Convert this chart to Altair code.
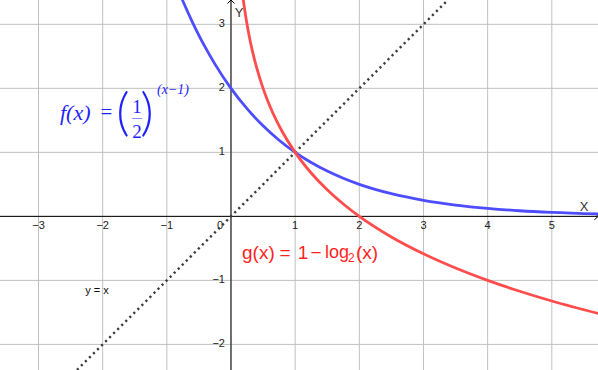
import altair as alt
import pandas as pd

# ---- view window (data units) ----
X_MIN, X_MAX = -3.6, 5.72
Y_MIN, Y_MAX = -2.40, 3.38

# ---- grid / ticks ----
grid_x = [-3, -2, -1, 0, 1, 2, 3, 4, 5]
grid_y = [-2, -1, 0, 1, 2, 3]
x_tick_values = [-3, -2, -1, 1, 2, 3, 4, 5]
x_tick_labels = ["−3", "−2", "−1", "1", "2", "3", "4", "5"]
y_tick_values = [-2, -1, 1, 2, 3]
y_tick_labels = ["−2", "−1", "1", "2", "3"]

# ---- curves ----
f_x = [-0.76, -0.6, -0.5, -0.4, -0.25, 0.0, 0.25, 0.5, 0.75, 1.0, 1.25, 1.5,
       1.75, 2.0, 2.5, 3.0, 3.5, 4.0, 4.5, 5.0, 5.75]
f_y = [3.387, 3.031, 2.828, 2.639, 2.378, 2.0, 1.682, 1.414, 1.189, 1.0, 0.841,
       0.707, 0.595, 0.5, 0.354, 0.25, 0.177, 0.125, 0.088, 0.0625, 0.037]

g_x = [0.19, 0.2, 0.25, 0.3, 0.35, 0.4, 0.5, 0.6, 0.7, 0.8, 1.0, 1.25, 1.5,
       1.75, 2.0, 2.5, 3.0, 3.5, 4.0, 4.5, 5.0, 5.75]
g_y = [3.396, 3.322, 3.0, 2.737, 2.515, 2.322, 2.0, 1.737, 1.515, 1.322, 1.0,
       0.678, 0.415, 0.193, 0.0, -0.322, -0.585, -0.807, -1.0, -1.170, -1.322, -1.524]

id_x = [-2.40, 3.38]
id_y = [-2.40, 3.38]

# ---- colours ----
BLUE_LINE = "#4d4dff"
RED_LINE = "#ff4d4d"
BLUE_TEXT = "#1f1fff"
RED_TEXT = "#ff1f1f"
GRID = "#c0c0c0"

xs = alt.Scale(domain=[X_MIN, X_MAX], nice=False, zero=False)
ys = alt.Scale(domain=[Y_MIN, Y_MAX], nice=False, zero=False)


def X(f="x"):
    return alt.X(f + ":Q", scale=xs, axis=None)


def Y(f="y"):
    return alt.Y(f + ":Q", scale=ys, axis=None)


grid_v = alt.Chart(pd.DataFrame({"x": grid_x})).mark_rule(
    color=GRID, strokeWidth=1).encode(x=X())
grid_h = alt.Chart(pd.DataFrame({"y": grid_y})).mark_rule(
    color=GRID, strokeWidth=1).encode(y=Y())

axis_v = alt.Chart(pd.DataFrame({"x": [0]})).mark_rule(
    color="black", strokeWidth=1).encode(x=X())
axis_h = alt.Chart(pd.DataFrame({"y": [0]})).mark_rule(
    color="black", strokeWidth=1).encode(y=Y())

arrow_up = alt.Chart(pd.DataFrame({"x": [0], "y": [Y_MAX]})).mark_point(
    shape="M-1,1L0,0L1,1", filled=False, size=49, strokeWidth=1, color="black",
    opacity=1).encode(x=X(), y=Y())
arrow_right = alt.Chart(pd.DataFrame({"x": [X_MAX], "y": [0]})).mark_point(
    shape="M-1,-1L0,0L-1,1", filled=False, size=49, strokeWidth=1, color="black",
    opacity=1).encode(x=X(), y=Y())

xt = alt.Chart(pd.DataFrame({"x": x_tick_values, "y": [0] * len(x_tick_values),
                             "t": x_tick_labels})).mark_text(
    align="center", baseline="middle", dy=10, fontSize=11,
    font="Liberation Sans", color="#222").encode(x=X(), y=Y(), text="t:N")
yt = alt.Chart(pd.DataFrame({"x": [0] * len(y_tick_values), "y": y_tick_values,
                             "t": y_tick_labels})).mark_text(
    align="right", baseline="middle", dx=-6, fontSize=11,
    font="Liberation Sans", color="#222").encode(x=X(), y=Y(), text="t:N")
zero = alt.Chart(pd.DataFrame({"x": [0], "y": [0], "t": ["0"]})).mark_text(
    align="center", baseline="middle", dx=-11, dy=10, fontSize=11,
    font="Liberation Sans", color="#222").encode(x=X(), y=Y(), text="t:N")

xlab = alt.Chart(pd.DataFrame({"x": [X_MAX], "y": [0], "t": ["X"]})).mark_text(
    align="center", baseline="middle", dx=-14, dy=-9, fontSize=13,
    font="Liberation Sans", color="#333").encode(x=X(), y=Y(), text="t:N")
ylab = alt.Chart(pd.DataFrame({"x": [0], "y": [Y_MAX], "t": ["Y"]})).mark_text(
    align="center", baseline="middle", dx=8, dy=13, fontSize=13,
    font="Liberation Sans", color="#333").encode(x=X(), y=Y(), text="t:N")

identity = alt.Chart(pd.DataFrame({"x": id_x, "y": id_y})).mark_line(
    color="#3a3a3a", strokeWidth=2.4, strokeDash=[2.2, 3.5], clip=True).encode(
    x=X(), y=Y())

f_line = alt.Chart(pd.DataFrame({"x": f_x, "y": f_y})).mark_line(
    color=BLUE_LINE, strokeWidth=2.8, interpolate="monotone", clip=True).encode(
    x=X(), y=Y())
g_line = alt.Chart(pd.DataFrame({"x": g_x, "y": g_y})).mark_line(
    color=RED_LINE, strokeWidth=2.8, interpolate="monotone", clip=True).encode(
    x=X(), y=Y())


def txt(text, ax, ay, dx, dy, size, color, font, style="normal", align="left",
        weight="normal"):
    return alt.Chart(pd.DataFrame({"x": [ax], "y": [ay], "t": [text]})).mark_text(
        align=align, baseline="middle", dx=dx, dy=dy, fontSize=size, color=color,
        font=font, fontStyle=style, fontWeight=weight).encode(
        x=X(), y=Y(), text="t:N")


# f(x) label
F_AX, F_AY = -2.665, 1.615
SERIF = "Liberation Serif"
f_parts = [
    txt("f(x)", F_AX, F_AY, 0, 0, 22, BLUE_TEXT, SERIF, "italic", "left"),
    txt("=", F_AX, F_AY, 46.5, 0, 21, BLUE_TEXT, SERIF, "normal", "center"),
    txt("(", F_AX, F_AY, 63, 1, 52, BLUE_TEXT, "Lato", "normal", "center", 300),
    txt(")", F_AX, F_AY, 87, 1, 52, BLUE_TEXT, "Lato", "normal", "center", 300),
    txt("1", F_AX, F_AY, 77, -6, 19, BLUE_TEXT, SERIF, "normal", "center"),
    txt("—", F_AX, F_AY, 77, 5, 10, BLUE_TEXT, SERIF, "normal", "center"),
    txt("2", F_AX, F_AY, 77, 19, 19, BLUE_TEXT, SERIF, "normal", "center"),
    txt("(x−1)", F_AX, F_AY, 97, -23, 14, BLUE_TEXT, SERIF, "italic", "left"),
]

# g(x) label
G_AX, G_AY = 0.172, -0.573
SANS = "Liberation Sans"
g_parts = [
    txt("g(x)", G_AX, G_AY, 0, 0, 19, RED_TEXT, SANS, "normal", "left"),
    txt("=", G_AX, G_AY, 43, 0, 19, RED_TEXT, SANS, "normal", "center"),
    txt("1", G_AX, G_AY, 61, 0, 19, RED_TEXT, SANS, "normal", "center"),
    txt("−", G_AX, G_AY, 74, 0, 19, RED_TEXT, SANS, "normal", "center"),
    txt("log", G_AX, G_AY, 83, 0, 18, RED_TEXT, SANS, "normal", "left"),
    txt("2", G_AX, G_AY, 106, 5, 12, RED_TEXT, SANS, "normal", "left"),
    txt("(x)", G_AX, G_AY, 114, 0, 19, RED_TEXT, SANS, "normal", "left"),
]

yx_label = txt("y = x", -2.088, -1.166, 0, 0, 11, "#111", SANS, "normal", "center")

chart = alt.layer(
    grid_v, grid_h, axis_v, axis_h, arrow_up, arrow_right,
    xt, yt, zero, xlab, ylab,
    identity, f_line, g_line,
    *f_parts, *g_parts, yx_label,
).properties(
    width=598, height=370, padding=0,
    autosize=alt.AutoSizeParams(type="none"),
).configure_view(stroke=None)

chart.save("out.html", embed_options={"renderer": "svg", "actions": False})
